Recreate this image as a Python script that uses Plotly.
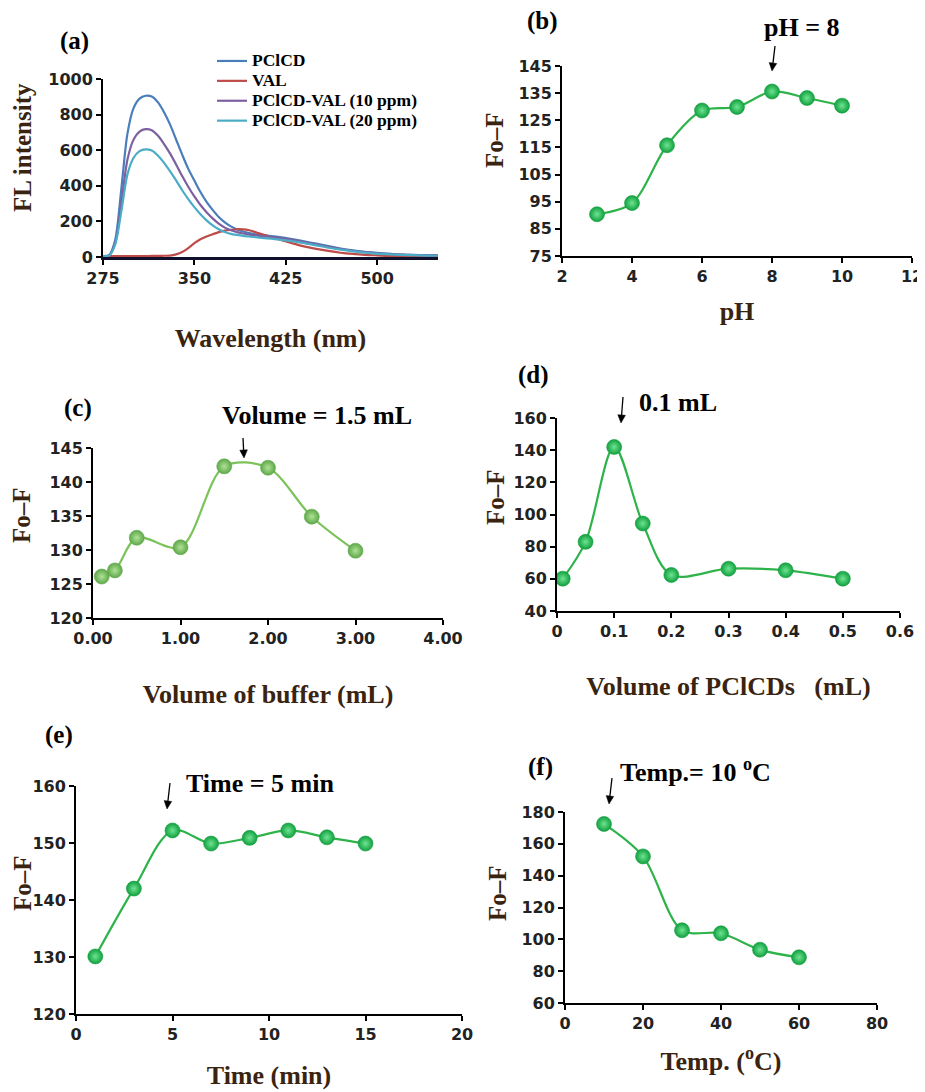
import math
import plotly.graph_objects as go

# ---- panel (a): fluorescence spectra ----
wavelength = [275, 280, 285, 290, 295, 300, 305, 310, 315, 320, 325, 330, 335, 340, 345,
              350, 355, 360, 365, 370, 375, 380, 385, 390, 395, 400, 410, 420, 430, 440,
              450, 460, 470, 480, 490, 500, 510, 520, 530, 540, 550]
fl_pclcd = [5, 10, 95, 380, 690, 835, 890, 906, 902, 870, 815, 745, 660, 575, 495,
            430, 365, 310, 265, 225, 195, 172, 155, 143, 134, 128, 120, 112, 101, 88,
            75, 61, 48, 37, 29, 23, 18, 14, 12, 10, 9]
fl_val = [5, 5, 5, 5, 5, 5, 5, 5, 6, 6, 7, 8, 15, 28, 50,
          78, 100, 115, 128, 140, 148, 153, 156, 155, 150, 140, 118, 98, 78, 60,
          46, 34, 24, 17, 12, 9, 6, 5, 4, 3, 3]
fl_10ppm = [5, 9, 80, 300, 545, 658, 705, 718, 712, 682, 636, 582, 520, 455, 395,
            340, 292, 252, 217, 187, 165, 150, 140, 132, 126, 121, 114, 106, 96, 84,
            70, 57, 45, 35, 27, 21, 17, 13, 11, 9, 8]
fl_20ppm = [5, 8, 70, 255, 462, 556, 595, 605, 598, 570, 530, 482, 430, 375, 325,
            280, 240, 206, 178, 156, 140, 130, 124, 119, 115, 111, 105, 98, 89, 78,
            65, 52, 41, 32, 25, 19, 15, 12, 10, 8, 7]

# ---- panel (b): pH ----
ph = [3, 4, 5, 6, 7, 8, 9, 10]
ph_fof = [90.4, 94.5, 115.8, 128.6, 129.9, 135.6, 133.2, 130.4]

# ---- panel (c): buffer volume ----
buffer_ml = [0.1, 0.25, 0.5, 1.0, 1.5, 2.0, 2.5, 3.0]
buffer_fof = [126.1, 127.0, 131.8, 130.4, 142.3, 142.1, 134.9, 129.9]

# ---- panel (d): PClCDs volume ----
cds_ml = [0.01, 0.05, 0.1, 0.15, 0.2, 0.3, 0.4, 0.5]
cds_fof = [60.1, 83.0, 142.0, 94.4, 62.4, 66.3, 65.3, 60.1]

# ---- panel (e): time ----
time_min = [1, 3, 5, 7, 9, 11, 13, 15]
time_fof = [130.1, 142.0, 152.2, 149.9, 150.9, 152.2, 151.0, 149.9]

# ---- panel (f): temperature ----
temp_c = [10, 20, 30, 40, 50, 60]
temp_fof = [172.5, 152.1, 105.7, 103.8, 93.5, 88.7]

# page body has an 8px margin, so the figure is a bit smaller and
# positions below are given in window pixels and shifted by OFF
OFF = 8
W, H = 925 - OFF, 1092 - OFF
SERIF = "Liberation Serif"
SANS = "DejaVu Sans"
TITLE_COL = "#3a2410"


def px(x):
    return (x - OFF) / W


def py(y):
    return 1 - (y - OFF) / H


fig = go.Figure()

spectra = [
    ("PClCD", fl_pclcd, "#4a7ebb"),
    ("VAL", fl_val, "#be4b48"),
    ("PClCD-VAL (10 ppm)", fl_10ppm, "#7d60a0"),
    ("PClCD-VAL (20 ppm)", fl_20ppm, "#4bacc6"),
]
for name, vals, col in spectra:
    # legend font is kept small so the entries sit close together like the original
    fig.add_trace(go.Scatter(x=wavelength, y=vals, mode="lines",
                             name='<span style="font-size:17.5px"><b>' + name + '</b></span>',
                             line=dict(color=col, width=2.2, shape="spline", smoothing=0.8),
                             xaxis="x", yaxis="y"))

green = dict(line="#2db34a", edge="#12a03f", center="#6ee492")
olive = dict(line="#7cc35a", edge="#5ea84a", center="#b0e296")

panels = [
    (ph, ph_fof, "x2", "y2", green),
    (buffer_ml, buffer_fof, "x3", "y3", olive),
    (cds_ml, cds_fof, "x4", "y4", green),
    (time_min, time_fof, "x5", "y5", green),
    (temp_c, temp_fof, "x6", "y6", green),
]
for xs, ys, xa, ya, c in panels:
    fig.add_trace(go.Scatter(x=xs, y=ys, mode="lines+markers", showlegend=False,
                             line=dict(color=c["line"], width=2.2, shape="spline", smoothing=0.9),
                             marker=dict(size=15, color=c["edge"],
                                         gradient=dict(type="radial", color=c["center"]),
                                         line=dict(width=0.6, color=c["edge"])),
                             xaxis=xa, yaxis=ya))


def ax_style(dom, rng, title=None, standoff=0, **kw):
    d = dict(domain=dom, range=rng, showgrid=False, zeroline=False, automargin=False,
             showline=True, linecolor="black", linewidth=2,
             ticks="outside", ticklen=5, tickwidth=2, tickcolor="black",
             tickfont=dict(family=SANS, size=16, color="#222", weight="bold"))
    if title:
        d["title"] = dict(text="<b>" + title + "</b>", standoff=standoff,
                          font=dict(family=SERIF, size=26, color=TITLE_COL))
    d.update(kw)
    return d


layout_axes = dict(
    xaxis=ax_style([px(103), px(438)], [275, 550], "Wavelength (nm)", 42,
                   tickvals=[275, 350, 425, 500], anchor="y", linewidth=3, linecolor="#10102a"),
    yaxis=ax_style([py(257), py(79)], [0, 1000], dtick=200, anchor="x"),
    xaxis2=ax_style([px(562), px(912)], [2, 12], "pH", 17, dtick=2, anchor="y2"),
    yaxis2=ax_style([py(256), py(66)], [75, 145], tick0=75, dtick=10, anchor="x2"),
    xaxis3=ax_style([px(93), px(443)], [0, 4], "Volume of buffer (mL)", 38,
                    dtick=1, tickformat=".2f", anchor="y3"),
    yaxis3=ax_style([py(618), py(448)], [120, 145], dtick=5, anchor="x3"),
    xaxis4=ax_style([px(557), px(900)], [0, 0.6], "Volume of PClCDs   (mL)", 37,
                    dtick=0.1, anchor="y4"),
    yaxis4=ax_style([py(611), py(418)], [40, 160], dtick=20, anchor="x4"),
    xaxis5=ax_style([px(76), px(462)], [0, 20], "Time (min)", 23, dtick=5, anchor="y5"),
    yaxis5=ax_style([py(1014), py(786)], [120, 160], dtick=10, anchor="x5"),
    xaxis6=ax_style([px(565), px(877)], [0, 80], "Temp. (<sup>o</sup>C)", 20, dtick=20, anchor="y6"),
    yaxis6=ax_style([py(1003), py(812)], [60, 180], dtick=20, anchor="x6"),
)

annotations = []
# y axis titles sit a little above the middle of each axis, as in the original
for txt, x, y in [("FL intensity", 22, 148), ("Fo\u2013F", 494, 140), ("Fo\u2013F", 22, 515),
                  ("Fo\u2013F", 495, 497), ("Fo\u2013F", 22, 883), ("Fo\u2013F", 497, 893)]:
    annotations.append(dict(text="<b>" + txt + "</b>", x=px(x), y=py(y), xref="paper", yref="paper",
                            showarrow=False, textangle=-90, xanchor="center", yanchor="middle",
                            font=dict(family=SERIF, size=25, color=TITLE_COL)))

# panel letters
for lab, x, y in [("(a)", 74, 41), ("(b)", 542, 21), ("(c)", 78, 408),
                  ("(d)", 533, 375), ("(e)", 59, 735), ("(f)", 540, 767)]:
    annotations.append(dict(text="<b>" + lab + "</b>", x=px(x), y=py(y), xref="paper", yref="paper",
                            showarrow=False, xanchor="center", yanchor="middle",
                            font=dict(family=SERIF, size=25, color="black")))

# optimum labels (text centre) and their arrows (tail -> head), in window pixels
callouts = [
    ("pH = 8", 802, 28, (775, 46), (772, 71)),
    ("Volume = 1.5 mL", 317, 415, (243, 438), (244, 458)),
    ("0.1 mL", 678, 402, (623, 397), (621, 423)),
    ("Time = 5 min", 260, 783, (170, 783), (167, 809)),
    ("Temp.= 10 <sup>o</sup>C", 695, 770, (612, 778), (609, 804)),
]
shapes = []
for txt, tx, ty, tail, head in callouts:
    annotations.append(dict(text="<b>" + txt + "</b>", x=px(tx), y=py(ty), xref="paper", yref="paper",
                            showarrow=False, xanchor="center", yanchor="middle",
                            font=dict(family=SERIF, size=26, color="black")))
    dx, dy = head[0] - tail[0], head[1] - tail[1]
    n = math.hypot(dx, dy)
    ux, uy = dx / n, dy / n
    bx, by = head[0] - ux * 8, head[1] - uy * 8
    pxv, pyv = -uy * 3.8, ux * 3.8
    shapes.append(dict(type="line", xref="paper", yref="paper",
                       x0=px(tail[0]), y0=py(tail[1]), x1=px(bx), y1=py(by),
                       line=dict(color="black", width=1.3)))
    path = "M {} {} L {} {} L {} {} Z".format(
        px(head[0]), py(head[1]), px(bx + pxv), py(by + pyv), px(bx - pxv), py(by - pyv))
    shapes.append(dict(type="path", xref="paper", yref="paper", path=path,
                       fillcolor="black", line=dict(color="black", width=0.5)))

fig.update_layout(
    width=W, height=H,
    margin=dict(l=0, r=0, t=0, b=0),
    plot_bgcolor="white", paper_bgcolor="white",
    annotations=annotations,
    shapes=shapes,
    legend=dict(x=px(212), y=py(46), xanchor="left", yanchor="top",
                font=dict(family=SERIF, size=13, color="black"),
                bgcolor="rgba(0,0,0,0)", tracegroupgap=0, itemwidth=30),
    **layout_axes,
)

fig.write_html("out.html")
